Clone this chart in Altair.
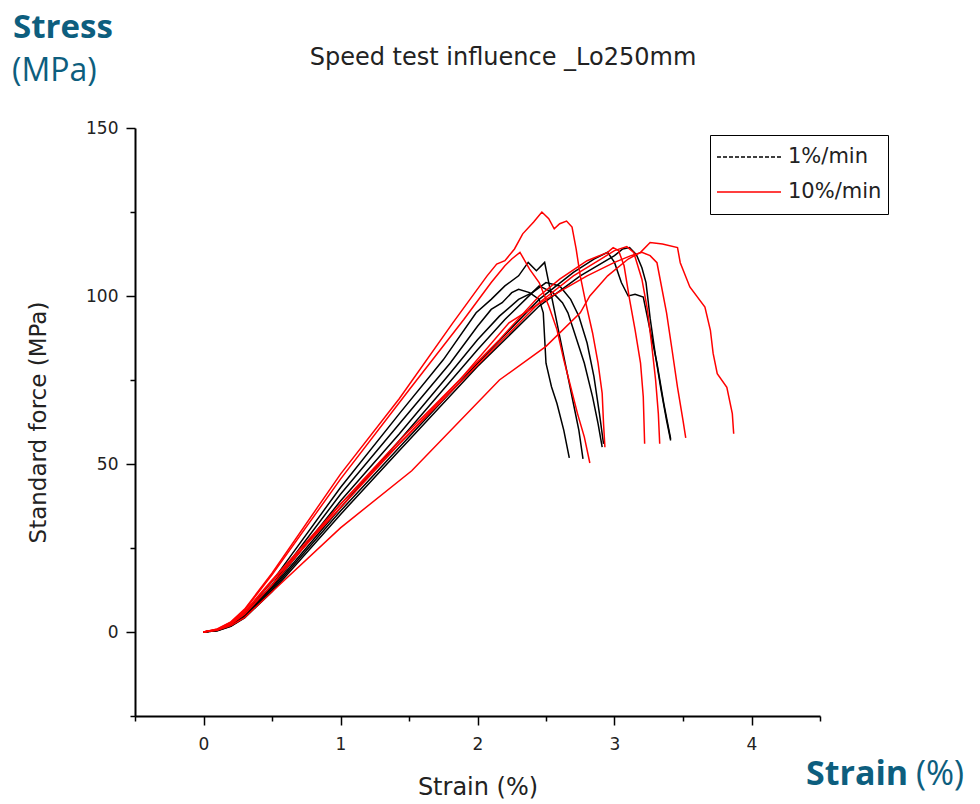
import altair as alt
import pandas as pd

# ---------------- data ----------------
speeds = ["1%/min", "10%/min"]
speed_colors = ["#000000", "#ff0000"]
legend_dashes = [[4, 2], [1, 0]]

# 1 %/min specimens (black)
B1_x = [0, 0.1, 0.2, 0.3, 0.5, 1.0, 1.43, 1.75, 1.99, 2.1, 2.2, 2.3, 2.37, 2.43, 2.49, 2.52, 2.55, 2.6, 2.65, 2.7, 2.74, 2.77]
B1_y = [0, 0.6, 2.4, 5.6, 15, 43, 65, 81, 95, 99, 103, 106, 110, 107.5, 110, 104, 98, 88, 78, 68, 60, 51.5]
B2_x = [0, 0.1, 0.2, 0.3, 0.5, 1.0, 1.43, 1.8, 2.0, 2.1, 2.18, 2.25, 2.3, 2.38, 2.45, 2.48, 2.5, 2.54, 2.58, 2.63, 2.67]
B2_y = [0, 0.5, 2.2, 5.2, 14, 41, 62, 80, 91, 96, 98, 101, 102, 101, 99, 95, 80, 73, 68, 60, 51.8]
B3_x = [0, 0.1, 0.2, 0.3, 0.5, 1.0, 1.43, 1.8, 2.0, 2.16, 2.3, 2.4, 2.45, 2.55, 2.62, 2.66, 2.7, 2.78, 2.84, 2.88, 2.91]
B3_y = [0, 0.5, 2.0, 4.8, 13.5, 39, 59, 77, 87, 94, 99, 101, 103, 101, 98, 95, 90, 80, 70, 62, 55]
B4_x = [0, 0.1, 0.2, 0.3, 0.5, 1.0, 1.43, 2.0, 2.2, 2.4, 2.5, 2.6, 2.68, 2.74, 2.8, 2.85, 2.89, 2.92]
B4_y = [0, 0.5, 2.0, 4.6, 13, 37, 57, 84, 93, 101, 104, 103, 99, 94, 86, 76, 65, 56]
B5_x = [0, 0.1, 0.2, 0.3, 0.5, 1.0, 1.43, 2.0, 2.45, 2.7, 2.85, 2.95, 3.0, 3.05, 3.1, 3.15, 3.21, 3.26, 3.31, 3.36, 3.41]
B5_y = [0, 0.4, 1.8, 4.4, 12.5, 36, 55, 80, 99, 107, 111, 113, 110, 104, 100, 100.5, 99.7, 89.8, 80, 68, 57.5]
B6_x = [0, 0.1, 0.2, 0.3, 0.5, 1.0, 1.43, 2.0, 2.45, 2.75, 3.0, 3.06, 3.11, 3.16, 3.2, 3.23, 3.26, 3.3, 3.34, 3.38, 3.41]
B6_y = [0, 0.4, 1.7, 4.2, 12, 35, 54, 79, 97, 106, 112, 114, 114.4, 112.3, 108.4, 104, 93.4, 82, 72, 63, 57]

# 10 %/min specimens (red)
R1_x = [0, 0.1, 0.2, 0.3, 0.5, 1.0, 1.43, 1.82, 2.07, 2.14, 2.2, 2.27, 2.33, 2.41, 2.47, 2.52, 2.56, 2.6, 2.65, 2.69, 2.72, 2.75, 2.79, 2.84, 2.88, 2.91, 2.92, 2.93]
R1_y = [0, 0.9, 3.0, 6.8, 17.5, 47, 69.5, 92, 106, 109.5, 110.5, 114, 118.5, 122, 125, 123, 120, 121.5, 122.3, 120.5, 114, 106, 98, 89, 80, 71, 62, 55]
R2_x = [0, 0.1, 0.2, 0.3, 0.5, 1.0, 1.5, 1.9, 2.1, 2.2, 2.25, 2.31, 2.38, 2.45, 2.52, 2.58, 2.63, 2.68, 2.73, 2.78, 2.82]
R2_y = [0, 0.8, 2.9, 6.5, 17, 45.5, 72, 93, 104, 109, 111, 113, 108, 104, 97, 90, 81, 73, 65, 58, 50.3]
R3_x = [0, 0.1, 0.2, 0.3, 0.5, 1.0, 1.43, 2.16, 2.45, 2.6, 2.8, 2.95, 2.99, 3.03, 3.07, 3.09, 3.11, 3.15, 3.19, 3.21, 3.22]
R3_y = [0, 0.7, 2.6, 6.0, 15.5, 38, 57, 87, 100, 105, 110.5, 113, 114.4, 113.5, 109, 104, 99, 90, 80, 70, 56]
R4_x = [0, 0.1, 0.2, 0.3, 0.5, 1.0, 1.43, 2.16, 2.45, 2.7, 2.9, 3.0, 3.09, 3.14, 3.2, 3.24, 3.27, 3.3, 3.32, 3.33]
R4_y = [0, 0.7, 2.5, 5.8, 15, 37, 56, 86, 98, 106, 111, 113.5, 114.7, 113, 105, 96, 86, 75, 65, 56]
R5_x = [0, 0.1, 0.2, 0.3, 0.5, 1.0, 1.52, 2.16, 2.5, 2.75, 2.82, 2.95, 3.1, 3.19, 3.26, 3.35, 3.46, 3.48, 3.55, 3.66, 3.7, 3.72, 3.75, 3.82, 3.86, 3.87]
R5_y = [0, 0.5, 1.9, 4.3, 12, 31, 48, 75, 85, 95, 100, 106, 111, 113, 115.9, 115.5, 114.4, 109.9, 102.7, 96.7, 89.8, 82.9, 76.9, 72.8, 65, 59]
R6_x = [0, 0.1, 0.2, 0.3, 0.5, 1.0, 1.5, 1.87, 2.23, 2.5, 2.8, 3.0, 3.12, 3.2, 3.26, 3.31, 3.38, 3.42, 3.46, 3.5, 3.52]
R6_y = [0, 0.6, 2.3, 5.3, 14, 38, 59, 75, 92, 99, 106, 110, 112, 113, 112, 109.9, 95, 84, 72.8, 63, 57.8]

x_major_ticks = [0, 1, 2, 3, 4]
x_minor_ticks = [-0.5, 0.5, 1.5, 2.5, 3.5, 4.5]
y_major_ticks = [0, 50, 100, 150]
y_minor_ticks = [-25, 25, 75, 125]

title_text = "Speed test influence _Lo250mm"
x_title = "Strain (%)"
y_title = "Standard force (MPa)"
corner_bold = ["Stress", "Strain"]
corner_regular = ["(MPa)", "(%)"]

# ---------------- build table ----------------
curves = [
    ("1%/min", "B1", B1_x, B1_y), ("1%/min", "B2", B2_x, B2_y), ("1%/min", "B3", B3_x, B3_y),
    ("1%/min", "B4", B4_x, B4_y), ("1%/min", "B5", B5_x, B5_y), ("1%/min", "B6", B6_x, B6_y),
    ("10%/min", "R1", R1_x, R1_y), ("10%/min", "R2", R2_x, R2_y), ("10%/min", "R3", R3_x, R3_y),
    ("10%/min", "R4", R4_x, R4_y), ("10%/min", "R5", R5_x, R5_y), ("10%/min", "R6", R6_x, R6_y),
]
rows = []
for speed, name, xs, ys in curves:
    for i, (xv, yv) in enumerate(zip(xs, ys)):
        rows.append({"speed": speed, "curve": name, "i": i, "strain": xv, "stress": yv})
df = pd.DataFrame(rows)

FONT = "DejaVu Sans"
TEAL = "#0d5e7e"
W, H = 685, 588
PAD = {"left": 135, "top": 128, "right": 980 - 135 - W, "bottom": 804 - 128 - H}

xscale = alt.Scale(domain=[-0.5, 4.5], nice=False, zero=False)
yscale = alt.Scale(domain=[-25, 150], nice=False, zero=False)
cscale = alt.Scale(domain=speeds, range=speed_colors)
dscale = alt.Scale(domain=speeds, range=legend_dashes)

common = dict(grid=False, domainColor="black", domainWidth=2, tickColor="black", tickWidth=1.5,
              labelFont=FONT, labelFontSize=17, labelColor="#222", titleFont=FONT,
              titleColor="#222", titleFontWeight="normal")

x_major = alt.Axis(orient="bottom", values=x_major_ticks, tickSize=9, labelPadding=11,
                   title=x_title, titleFontSize=24, titlePadding=23, **common)
y_major = alt.Axis(orient="left", values=y_major_ticks, tickSize=9, labelPadding=8,
                   title=y_title, titleFontSize=23, titlePadding=35, **common)
x_minor = alt.Axis(orient="bottom", values=x_minor_ticks, tickSize=5, labels=False, title=None,
                   domain=False, grid=False, tickColor="black", tickWidth=1.5)
y_minor = alt.Axis(orient="left", values=y_minor_ticks, tickSize=5, labels=False, title=None,
                   domain=False, grid=False, tickColor="black", tickWidth=1.5)

legend = alt.Legend(
    title=None, orient="none", legendX=575, legendY=7, symbolType="stroke", symbolSize=4096,
    symbolStrokeWidth=1.5, symbolOpacity=1, labelFont=FONT, labelFontSize=21, labelColor="#222",
    labelOffset=6, strokeColor="black", padding=6, rowPadding=3, clipHeight=32,
)

base = alt.Chart(df)
black = base.transform_filter(alt.datum.speed == "1%/min").mark_line(strokeWidth=1.5).encode(
    x=alt.X("strain:Q", scale=xscale, axis=x_major),
    y=alt.Y("stress:Q", scale=yscale, axis=y_major),
    color=alt.Color("speed:N", scale=cscale, legend=legend),
    detail="curve:N",
    order="i:Q",
)
red = base.transform_filter(alt.datum.speed == "10%/min").mark_line(strokeWidth=1.5).encode(
    x=alt.X("strain:Q", scale=xscale, axis=x_minor),
    y=alt.Y("stress:Q", scale=yscale, axis=y_minor),
    color=alt.Color("speed:N", scale=cscale, legend=legend),
    detail="curve:N",
    order="i:Q",
)
# legend-only layer (draws nothing) so the legend keys carry the dash pattern
ghost = base.transform_filter("false").mark_line(strokeWidth=1.5).encode(
    x=alt.X("strain:Q", scale=xscale, axis=None),
    y=alt.Y("stress:Q", scale=yscale, axis=None),
    color=alt.Color("speed:N", scale=cscale, legend=legend),
    strokeDash=alt.StrokeDash("speed:N", scale=dscale, legend=legend),
    detail="curve:N",
)

title_lbl = alt.Chart(pd.DataFrame({"t": [title_text]})).mark_text(
    font=FONT, fontSize=24, color="#222", align="center", baseline="alphabetic"
).encode(text="t:N", x=alt.value(368), y=alt.value(-63))
stress_lbl = alt.Chart(pd.DataFrame({"t": [corner_bold[0]]})).mark_text(
    font="Open Sans", fontSize=33, fontWeight="bold", color=TEAL, align="left", baseline="alphabetic"
).encode(text="t:N", x=alt.value(-122), y=alt.value(-90))
mpa_lbl = alt.Chart(pd.DataFrame({"t": [corner_regular[0]]})).mark_text(
    font="Open Sans", fontSize=32, color=TEAL, align="left", baseline="alphabetic"
).encode(text="t:N", x=alt.value(-123), y=alt.value(-47))
strain_lbl = alt.Chart(pd.DataFrame({"t": [corner_bold[1]]})).mark_text(
    font="Open Sans", fontSize=34, fontWeight="bold", color=TEAL, align="left", baseline="alphabetic"
).encode(text="t:N", x=alt.value(671), y=alt.value(657))
pct_lbl = alt.Chart(pd.DataFrame({"t": [corner_regular[1]]})).mark_text(
    font="Open Sans", fontSize=34, color=TEAL, align="center", baseline="alphabetic"
).encode(text="t:N", x=alt.value(805), y=alt.value(657))

chart = alt.layer(black, red, ghost, title_lbl, stress_lbl, mpa_lbl, strain_lbl, pct_lbl).resolve_axis(
    x="independent", y="independent"
).properties(
    width=W, height=H,
    autosize=alt.AutoSizeParams(type="none"),
    padding=PAD,
    background="white",
).configure_view(strokeWidth=0, stroke="transparent")

chart.save("out.html", embed_options={"renderer": "svg", "actions": False})
